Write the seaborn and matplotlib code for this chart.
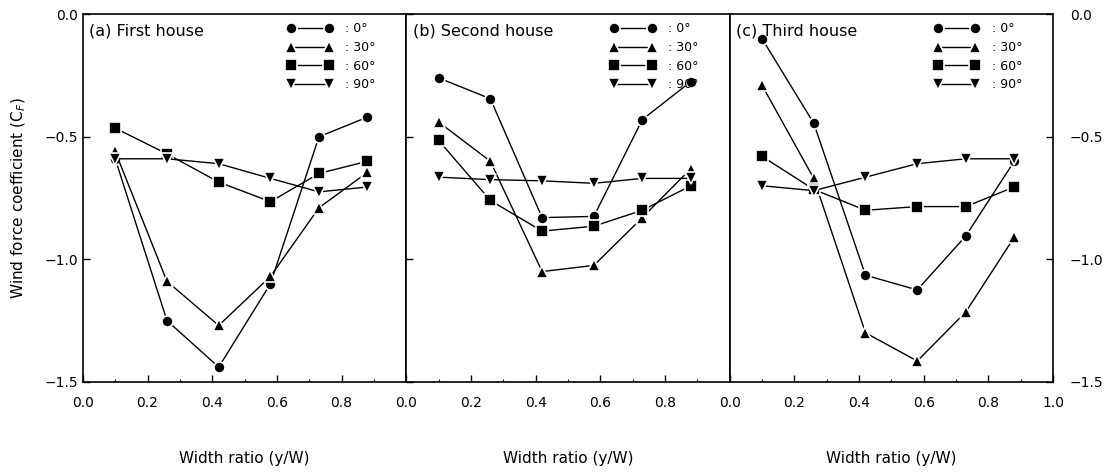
import numpy as np
import pandas as pd
import matplotlib
matplotlib.use("Agg")
import matplotlib.pyplot as plt
import seaborn as sns

# ---- data ----
width_ratio = [0.10, 0.26, 0.42, 0.58, 0.73, 0.88]
angles = ["0°", "30°", "60°", "90°"]
panel_titles = ["(a) First house", "(b) Second house", "(c) Third house"]

house1_0 = [-0.59, -1.25, -1.44, -1.10, -0.50, -0.42]
house1_30 = [-0.56, -1.09, -1.27, -1.07, -0.79, -0.645]
house1_60 = [-0.465, -0.57, -0.685, -0.765, -0.65, -0.60]
house1_90 = [-0.59, -0.59, -0.61, -0.67, -0.725, -0.705]

house2_0 = [-0.26, -0.345, -0.83, -0.825, -0.43, -0.275]
house2_30 = [-0.44, -0.60, -1.05, -1.025, -0.83, -0.63]
house2_60 = [-0.515, -0.76, -0.885, -0.865, -0.80, -0.70]
house2_90 = [-0.665, -0.675, -0.68, -0.69, -0.67, -0.67]

house3_0 = [-0.10, -0.445, -1.065, -1.125, -0.905, -0.60]
house3_30 = [-0.29, -0.67, -1.30, -1.415, -1.215, -0.91]
house3_60 = [-0.58, -0.715, -0.80, -0.785, -0.785, -0.705]
house3_90 = [-0.70, -0.72, -0.665, -0.61, -0.59, -0.59]

houses = [
    [house1_0, house1_30, house1_60, house1_90],
    [house2_0, house2_30, house2_60, house2_90],
    [house3_0, house3_30, house3_60, house3_90],
]

sns.set_style("ticks")
plt.rcParams["font.family"] = ["DejaVu Sans"]
plt.rcParams["text.color"] = "black"
plt.rcParams["axes.labelcolor"] = "black"
plt.rcParams["xtick.color"] = "black"
plt.rcParams["ytick.color"] = "black"

fig, axes = plt.subplots(1, 3, figsize=(11.05, 4.72), dpi=100, sharey=True)
fig.subplots_adjust(left=0.075, right=0.953, top=0.970, bottom=0.191, wspace=0.0)

marker_map = {"0°": "o", "30°": "^", "60°": "s", "90°": "v"}

for i, ax in enumerate(axes):
    rows = []
    for ang, vals in zip(angles, houses[i]):
        for x, v in zip(width_ratio, vals):
            rows.append({"x": x, "y": v, "angle": ang})
    df = pd.DataFrame(rows)
    for ang in angles:
        sub = df[df["angle"] == ang]
        sns.lineplot(data=sub, x="x", y="y", ax=ax, color="black",
                     marker=marker_map[ang], markersize=8,
                     markeredgecolor="white", markeredgewidth=1.2,
                     linewidth=1.0, label=" : " + ang, estimator=None, sort=False)
    ax.set_xlim(0, 1.0)
    ax.set_ylim(-1.5, 0.0)
    ax.set_xticks([0.0, 0.2, 0.4, 0.6, 0.8, 1.0] if i == 2 else [0.0, 0.2, 0.4, 0.6, 0.8])
    ax.set_xticks(np.arange(0.1, 1.0, 0.2), minor=True)
    ax.set_yticks([0.0, -0.5, -1.0, -1.5])
    ax.set_yticklabels(["0.0", "−0.5", "−1.0", "−1.5"])
    ax.tick_params(axis="both", which="major", direction="in", length=5, width=1,
                   labelsize=10, top=False, right=False)
    ax.tick_params(axis="x", which="minor", direction="in", length=2.5, width=0.8,
                   top=False)
    ax.tick_params(axis="y", which="minor", left=False, right=False)
    ax.tick_params(axis="x", pad=10)
    for s in ax.spines.values():
        s.set_linewidth(1.2)
        s.set_color("black")
    ax.set_xlabel("Width ratio (y/W)", fontsize=11, labelpad=30)
    ax.set_ylabel("")
    ax.text(0.02, 0.975, panel_titles[i], transform=ax.transAxes, fontsize=11.5,
            ha="left", va="top")
    ax.legend(loc="upper right", bbox_to_anchor=(0.93, 1.0), frameon=False,
              numpoints=2, handlelength=3.6, fontsize=9, labelspacing=0.45,
              handletextpad=0.7, borderaxespad=0.25, markerscale=1.0)
    if i == 1:
        ax.tick_params(axis="y", labelleft=False)
    if i == 2:
        ax.tick_params(axis="y", which="major", labelleft=False, labelright=True,
                       left=False, right=True, pad=12)

axes[0].set_ylabel("Wind force coefficient (C$_F$)", fontsize=11, labelpad=12)

fig.savefig("out.png", dpi=100)
